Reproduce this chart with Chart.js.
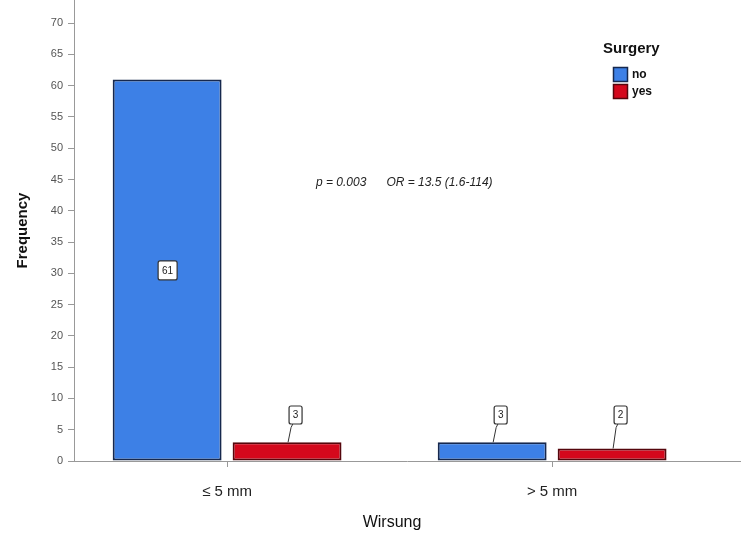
<!DOCTYPE html>
<html>
<head>
<meta charset="utf-8">
<script src="https://cdn.jsdelivr.net/npm/chart.js@4.4.1/dist/chart.umd.min.js"></script>
<style>
  html, body { margin: 0; padding: 0; background: #fff; }
  #wrap { width: 750px; height: 538px; }
</style>
</head>
<body>
<div id="wrap"><canvas id="myChart" width="750" height="538"></canvas></div>
<script>
// data
const categories = ["≤ 5 mm", "> 5 mm"];
const seriesNames = ["no", "yes"];
const noValues = [61, 3];
const yesValues = [3, 2];
const yTicks = [0, 5, 10, 15, 20, 25, 30, 35, 40, 45, 50, 55, 60, 65, 70];
const legendTitle = "Surgery";
const note = "p = 0.003      OR = 13.5 (1.6-114)";

const FONT = "'Liberation Sans', Arial, sans-serif";
const blue = "#3d80e6";
const red = "#d4081c";

// boxed value labels, inside tall bars, above short ones with a leader line
const valueLabels = {
    id: "valueLabels",
    afterDatasetsDraw(chart) {
        const ctx = chart.ctx;
        ctx.save();
        ctx.font = "10px " + FONT;
        ctx.textAlign = "center";
        ctx.textBaseline = "middle";
        chart.data.datasets.forEach((ds, di) => {
            chart.getDatasetMeta(di).data.forEach((bar, i) => {
                const v = ds.data[i].y;
                let bx, by, bw, bh;
                if (bar.base - bar.y > 60) {
                    bw = 19; bh = 19;
                    bx = bar.x - bw / 2;
                    by = (bar.y + bar.base) / 2 - bh / 2;
                } else {
                    bw = 13; bh = 18;
                    bx = bar.x + 8 - bw / 2;
                    by = bar.base - 55;
                    ctx.strokeStyle = "#333";
                    ctx.lineWidth = 1;
                    ctx.beginPath();
                    ctx.moveTo(bar.x + 1, bar.y);
                    ctx.lineTo(bar.x + 4, by + bh + 4);
                    ctx.lineTo(bar.x + 6, by + bh);
                    ctx.stroke();
                }
                ctx.fillStyle = "#fff";
                ctx.strokeStyle = "#333";
                ctx.lineWidth = 1.2;
                ctx.beginPath();
                ctx.roundRect(bx + 0.5, by + 0.5, bw, bh, 2);
                ctx.fill();
                ctx.stroke();
                ctx.fillStyle = "#222";
                ctx.fillText(String(v), bx + bw / 2 + 0.5, by + bh / 2 + 1);
            });
        });
        ctx.restore();
    }
};

// legend, annotation and x title
const extras = {
    id: "extras",
    afterDraw(chart) {
        const ctx = chart.ctx;
        ctx.save();
        ctx.fillStyle = "#111";
        ctx.textBaseline = "alphabetic";
        ctx.font = "bold 15px " + FONT;
        ctx.fillText(legendTitle, 603, 53);
        chart.data.datasets.forEach((ds, i) => {
            const y = 67 + i * 17;
            ctx.fillStyle = ds.backgroundColor;
            ctx.fillRect(613.5, y + 0.5, 14, 14);
            ctx.strokeStyle = ds.borderColor;
            ctx.lineWidth = 1.5;
            ctx.strokeRect(613.5, y + 0.5, 14, 14);
            ctx.fillStyle = "#111";
            ctx.font = "bold 12px " + FONT;
            ctx.textBaseline = "middle";
            ctx.fillText(ds.label, 632, y + 8);
        });
        ctx.font = "italic 12px " + FONT;
        ctx.textBaseline = "middle";
        ctx.fillStyle = "#222";
        ctx.fillText(note, 316, 183);
        ctx.font = "16px " + FONT;
        ctx.textAlign = "center";
        ctx.fillStyle = "#111";
        ctx.fillText("Wirsung", 392, 523);
        ctx.restore();
    }
};

const ctx = document.getElementById("myChart").getContext("2d");
const myChart = new Chart(ctx, {
    type: "bar",
    data: {
        datasets: [
            {
                label: seriesNames[0],
                data: noValues.map((v, i) => ({ x: i + 1, y: v })),
                backgroundColor: blue,
                borderColor: "#16284e",
                borderWidth: 2,
                borderSkipped: false,
            },
            {
                label: seriesNames[1],
                data: yesValues.map((v, i) => ({ x: i + 1, y: v })),
                backgroundColor: red,
                borderColor: "#55060c",
                borderWidth: 2,
                borderSkipped: false,
            },
        ],
    },
    options: {
        responsive: false,
        animation: false,
        categoryPercentage: 0.738,
        barPercentage: 0.908,
        layout: { padding: { top: 0, right: 10, left: 0, bottom: 0 } },
        plugins: {
            legend: { display: false },
            tooltip: { enabled: false },
        },
        scales: {
            x: {
                type: "linear",
                offset: false,
                min: 0.529,
                max: 2.578,
                afterBuildTicks: (s) => { s.ticks = categories.map((c, i) => ({ value: i + 1 })); },
                afterFit: (s) => { s.height = 77; },
                grid: { drawOnChartArea: false, offset: false, tickLength: 6, color: "#999" },
                border: { color: "#999" },
                ticks: {
                    callback: (v) => categories[v - 1],
                    font: { family: FONT, size: 15 },
                    color: "#222",
                    padding: 16,
                    maxRotation: 0,
                },
            },
            y: {
                min: 0,
                max: 73.7,
                afterBuildTicks: (s) => { s.ticks = yTicks.map((v) => ({ value: v })); },
                afterFit: (s) => { s.width = 74; s.paddingTop = 0; },
                grid: { drawOnChartArea: false, tickLength: 6, color: "#999" },
                border: { color: "#999" },
                ticks: {
                    font: { family: FONT, size: 11 },
                    color: "#555",
                    padding: 5,
                },
                title: {
                    display: true,
                    text: "Frequency",
                    font: { family: FONT, size: 15, weight: "bold" },
                    color: "#111",
                    padding: { top: 14, bottom: 0 },
                },
            },
        },
    },
    plugins: [valueLabels, extras],
});
</script>
</body>
</html>
